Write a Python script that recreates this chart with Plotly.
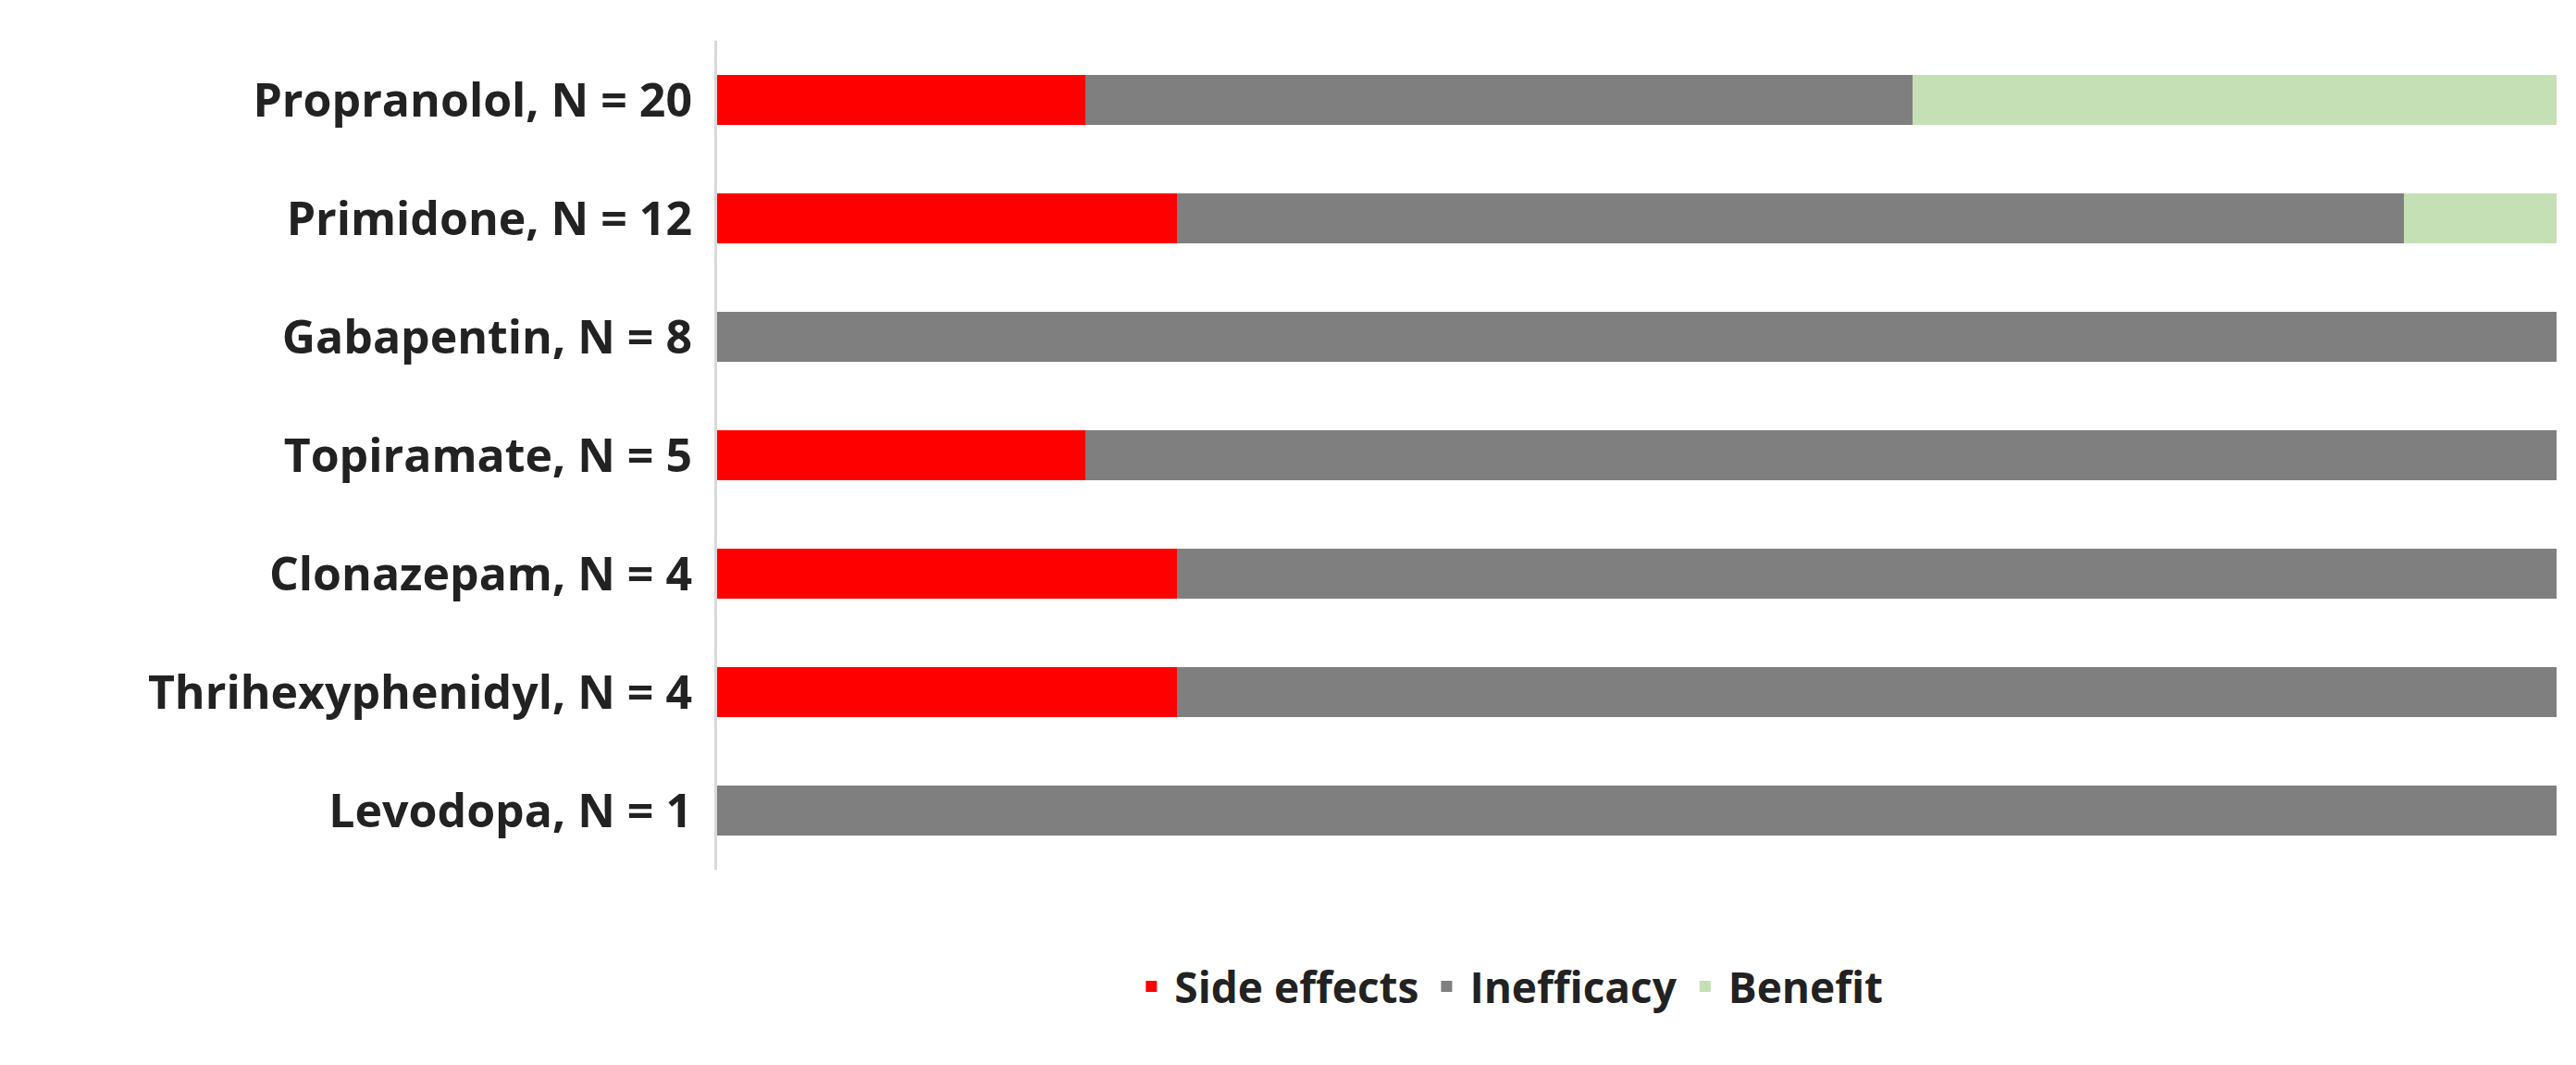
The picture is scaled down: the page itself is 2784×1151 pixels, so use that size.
import plotly.graph_objects as go

drugs = ["Propranolol, N = 20", "Primidone, N = 12", "Gabapentin, N = 8",
         "Topiramate, N = 5", "Clonazepam, N = 4", "Thrihexyphenidyl, N = 4",
         "Levodopa, N = 1"]
side_effects = [20, 25, 0, 20, 25, 25, 0]
inefficacy = [45, 66.7, 100, 80, 75, 75, 100]
benefit = [35, 8.3, 0, 0, 0, 0, 0]

series = [("Side effects", side_effects, "#ff0000"),
          ("Inefficacy", inefficacy, "#7f7f7f"),
          ("Benefit", benefit, "#c5e0b4")]

fig = go.Figure()
for name, vals, color in series:
    fig.add_trace(go.Bar(y=drugs, x=vals, name=name, orientation="h",
                         marker=dict(color=color, line=dict(width=0))))

fig.update_layout(
    barmode="stack",
    bargap=0.58,
    width=2784, height=1151,
    plot_bgcolor="white", paper_bgcolor="white",
    font=dict(family="Open Sans, Liberation Sans, sans-serif", size=40, color="#222"),
    margin=dict(l=767, r=29, t=36, b=219),
    showlegend=True,
    legend=dict(orientation="h", x=0.43, xanchor="center", y=-0.1, yanchor="top",
                font=dict(size=46, weight="bold"), traceorder="normal",
                itemwidth=40, itemsizing="constant"),
)
fig.update_xaxes(visible=False, range=[0, 100])
fig.update_yaxes(autorange="reversed", showline=True, linecolor="#d9d9d9", linewidth=3,
                 ticks="", tickfont=dict(size=50, family="Open Sans", weight="bold"),
                 ticklabelstandoff=14)

fig.write_html("out.html")
